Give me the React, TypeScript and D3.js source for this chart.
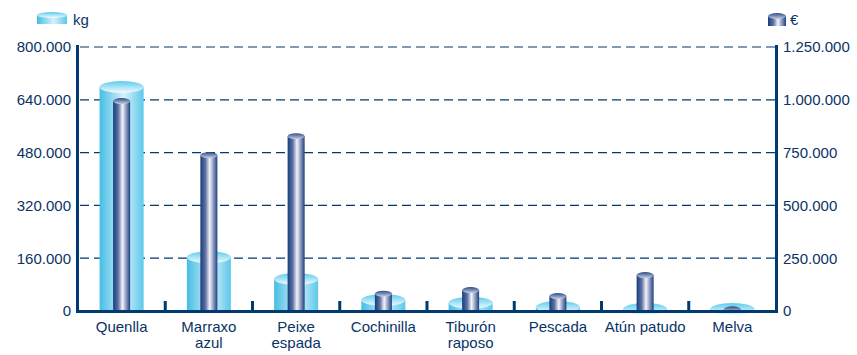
import React from "react";
import * as d3 from "d3";

const categories = ["Quenlla", "Marraxo\nazul", "Peixe\nespada", "Cochinilla", "Tiburón\nraposo", "Pescada", "Atún patudo", "Melva"];
const kgValues = [679000, 163000, 97000, 33000, 25000, 12000, 6000, 6000];
const euroValues = [994000, 738000, 828000, 82000, 99000, 71000, 170000, 8000];
const kgTicks = [0, 160000, 320000, 480000, 640000, 800000];
const euroTicks = [0, 250000, 500000, 750000, 1000000, 1250000];

const W = 857, H = 355;
const left = 78, right = 776, top = 47, bottom = 311;
const NAVY = "#003a70";
const TEXT = "#0a3366";
const FONT = "'Liberation Sans Narrow', 'Liberation Sans', Arial, sans-serif";

const fmt = (v: number) => (v === 0 ? "0" : d3.format(",")(v).replace(/,/g, "."));

export default function App() {
  const x = d3.scaleBand<number>().domain(d3.range(categories.length)).range([left, right]);
  const yKg = d3.scaleLinear().domain([0, 800000]).range([bottom, top]);
  const yEu = d3.scaleLinear().domain([0, 1250000]).range([bottom, top]);
  const kgW = 44, euW = 17, kgRy = 6, euRy = 3;

  return (
    <svg width={W} height={H} style={{ position: "absolute", left: 0, top: 0, fontFamily: FONT }}>
      <defs>
        <linearGradient id="kgBody" x1="0" x2="1" y1="0" y2="0">
          <stop offset="0" stopColor="#45bde5" />
          <stop offset="0.55" stopColor="#d6f1fa" />
          <stop offset="1" stopColor="#5cc8ea" />
        </linearGradient>
        <linearGradient id="kgTop" x1="0" x2="0" y1="0" y2="1">
          <stop offset="0" stopColor="#5ccbee" />
          <stop offset="1" stopColor="#f2fbfe" />
        </linearGradient>
        <linearGradient id="euBody" x1="0" x2="1" y1="0" y2="0">
          <stop offset="0" stopColor="#183c7c" />
          <stop offset="0.3" stopColor="#5e72a4" />
          <stop offset="0.55" stopColor="#f4f4fa" />
          <stop offset="0.78" stopColor="#8796bd" />
          <stop offset="1" stopColor="#1d3f7e" />
        </linearGradient>
        <linearGradient id="euTop" x1="0" x2="0" y1="0" y2="1">
          <stop offset="0" stopColor="#2c4c8a" />
          <stop offset="1" stopColor="#c8d0e2" />
        </linearGradient>
      </defs>

      {/* gridlines */}
      {kgTicks.filter((t) => t > 0).map((t) => (
        <line key={t} x1={left + 2} x2={right} y1={yKg(t)} y2={yKg(t)} stroke={NAVY} strokeWidth={1.2} strokeDasharray="9,5" />
      ))}

      {/* kg cylinders */}
      {kgValues.map((v, i) => {
        const cx = x(i)! + x.bandwidth() / 2;
        const yt = yKg(v);
        return (
          <g key={"kg" + i}>
            <rect x={cx - kgW / 2} y={yt} width={kgW} height={bottom - yt} fill="url(#kgBody)" />
            <ellipse cx={cx} cy={yt} rx={kgW / 2} ry={kgRy} fill="url(#kgTop)" />
          </g>
        );
      })}

      {/* euro cylinders */}
      {euroValues.map((v, i) => {
        const cx = x(i)! + x.bandwidth() / 2;
        const yt = yEu(v);
        return (
          <g key={"eu" + i}>
            <rect x={cx - euW / 2} y={yt} width={euW} height={bottom - yt} fill="url(#euBody)" />
            <ellipse cx={cx} cy={yt} rx={euW / 2} ry={euRy} fill="url(#euTop)" />
          </g>
        );
      })}

      {/* axes */}
      <rect x={left - 2} y={top - 2} width={3} height={bottom - top + 3} fill={NAVY} />
      <rect x={right - 1} y={top - 2} width={3} height={bottom - top + 3} fill={NAVY} />
      <rect x={left - 2} y={bottom - 1} width={right - left + 4} height={3} fill={NAVY} />
      {d3.range(1, categories.length).map((i) => (
        <rect key={"tk" + i} x={x(i)! - 1.5} y={bottom - 10} width={3} height={10} fill={NAVY} />
      ))}

      {/* tick labels */}
      {kgTicks.map((t) => (
        <text key={"lk" + t} x={71} y={yKg(t)} dy="0.36em" textAnchor="end" fontSize={15} fill={TEXT}>
          {fmt(t)}
        </text>
      ))}
      {euroTicks.map((t) => (
        <text key={"le" + t} x={783} y={yEu(t)} dy="0.36em" textAnchor="start" fontSize={15} fill={TEXT}>
          {fmt(t)}
        </text>
      ))}

      {/* category labels */}
      {categories.map((c, i) => {
        const cx = x(i)! + x.bandwidth() / 2;
        return (
          <text key={"c" + i} x={cx} y={332} textAnchor="middle" fontSize={15} fill={TEXT}>
            {c.split("\n").map((ln, j) => (
              <tspan key={j} x={cx} dy={j === 0 ? 0 : 16}>{ln}</tspan>
            ))}
          </text>
        );
      })}

      {/* legend */}
      <g>
        <rect x={37} y={15} width={30} height={9} fill="url(#kgBody)" />
        <ellipse cx={52} cy={15} rx={15} ry={3} fill="url(#kgTop)" />
        <text x={73} y={25} fontSize={15} fill={TEXT}>kg</text>
        <rect x={768} y={16} width={18} height={10} fill="url(#euBody)" />
        <ellipse cx={777} cy={16} rx={9} ry={3} fill="url(#euTop)" />
        <text x={790} y={25} fontSize={15} fill={TEXT}>€</text>
      </g>
    </svg>
  );
}
